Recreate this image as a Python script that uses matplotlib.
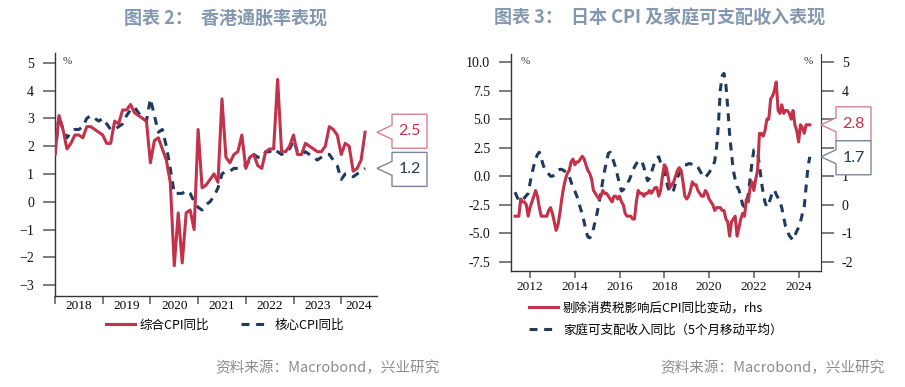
import numpy as np
import matplotlib
matplotlib.use('Agg')
import matplotlib.pyplot as plt
import matplotlib.transforms as mtransforms
from matplotlib.patches import Polygon
from matplotlib.lines import Line2D

plt.rcParams['font.family'] = ['Liberation Serif', 'Noto Sans CJK SC']

# -----------------------------------------------
# -         DATA: HONG KONG CPI (Jan 2018 - Jul 2024)
# -----------------------------------------------
hk_start = 2018
hk_headline = [
    1.7, 3.1, 2.6, 1.9, 2.1, 2.4, 2.4, 2.3, 2.7, 2.7, 2.6, 2.5,
    2.4, 2.1, 2.1, 2.9, 2.8, 3.3, 3.3, 3.5, 3.2, 3.1, 3.0, 2.9,
    1.4, 2.2, 2.3, 1.9, 1.5, 0.7, -2.3, -0.4, -2.2, -0.4, -0.3, -1.0,
    2.6, 0.5, 0.6, 0.8, 1.0, 0.7, 3.7, 1.6, 1.4, 1.7, 1.8, 2.4,
    1.2, 1.6, 1.7, 1.3, 1.2, 1.8, 1.9, 1.9, 4.4, 1.8, 1.8, 2.0,
    2.4, 1.7, 1.7, 2.1, 2.0, 1.9, 1.8, 1.8, 2.0, 2.7, 2.6, 2.4,
    1.7, 2.1, 2.0, 1.1, 1.2, 1.5, 2.5,
]
hk_core = [
    1.7, 3.1, 2.6, 2.3, 2.5, 2.6, 2.6, 2.7, 3.0, 3.1, 3.0, 2.9,
    3.0, 2.8, 2.6, 2.6, 2.7, 2.8, 3.1, 3.3, 3.4, 3.2, 3.0, 2.9,
    3.7, 3.1, 2.5, 2.6, 2.0, 1.2, 0.3, 0.3, 0.3, 0.4, 0.3, 0.0,
    -0.2, -0.3, -0.1, 0.0, 0.2, 0.5, 1.0, 1.1, 1.1, 1.2, 1.2, 1.3,
    1.3, 1.5, 1.7, 1.6, 1.6, 1.8, 1.8, 1.9, 1.8, 1.7, 1.8, 1.9,
    2.2, 1.8, 1.7, 1.8, 1.7, 1.6, 1.5, 1.6, 1.7, 1.7, 1.5, 1.3,
    0.8, 1.0, 1.0, 0.9, 1.0, 1.1, 1.2,
]
hk_years = [2018, 2019, 2020, 2021, 2022, 2023, 2024]

# -----------------------------------------------
# -         DATA: JAPAN (May 2011 - Jul 2024)
# -----------------------------------------------
jp_start = 2011 + 4 / 12
jp_cpi_ex_tax = [  # rhs
    -0.4, -0.4, -0.4, 0.2, 0.1, 0.1, 0.0, -0.4,
    -0.1, 0.1, 0.3, 0.5, 0.3, -0.1, -0.4, -0.4, -0.4, -0.4, -0.2, -0.1,
    -0.3, -0.6, -0.9, -0.7, -0.3, 0.2, 0.6, 0.9, 1.1, 1.2, 1.5, 1.6,
    1.4, 1.5, 1.5, 1.6, 1.7, 1.6, 1.4, 1.2, 1.1, 0.9, 0.5, 0.4,
    0.3, 0.2, 0.3, 0.5, 0.4, 0.4, 0.3, 0.2, 0.1, 0.3, 0.3, 0.2,
    0.3, 0.1, 0.0, -0.3, -0.4, -0.4, -0.4, -0.5, -0.5, 0.1, 0.5, 0.4,
    0.4, 0.3, 0.4, 0.4, 0.5, 0.4, 0.5, 0.6, 0.6, 0.3, 0.5, 1.0,
    1.4, 1.3, 1.0, 0.6, 0.7, 0.8, 1.0, 1.2, 1.3, 1.2, 0.8, 0.3,
    0.2, 0.3, 0.5, 0.8, 0.7, 0.7, 0.5, 0.4, 0.3, 0.3, 0.5, 0.4,
    0.2, 0.1, 0.0, -0.2, -0.1, -0.1, -0.1, -0.2, -0.2, -0.5, -0.6, -1.1,
    -0.6, -0.5, -0.4, -1.1, -0.8, -0.5, -0.3, -0.4, 0.2, 0.1, 0.6, 0.8,
    0.5, 0.9, 1.2, 2.5, 2.5, 2.4, 2.6, 3.0, 3.0, 3.7, 3.8, 4.0,
    4.3, 3.3, 3.2, 3.5, 3.2, 3.3, 3.3, 3.2, 3.0, 3.3, 2.8, 2.6,
    2.2, 2.8, 2.7, 2.5, 2.8, 2.8, 2.8,
]
jp_income = [  # lhs
    -1.4, -1.8, -2.1, -2.2, -2.1, -1.9, -1.7, -1.5,
    -0.6, 0.2, 0.9, 1.5, 1.9, 2.1, 1.6, 1.0, 0.6, 0.4, 0.2, 0.0,
    0.0, 0.1, 0.3, 0.5, 0.6, 0.6, 0.5, 0.4, 0.3, 0.0, -0.5, -1.0,
    -1.3, -1.7, -2.2, -2.8, -3.3, -4.0, -4.8, -5.3, -5.4, -5.2, -4.6, -3.9,
    -3.2, -2.3, -1.4, -0.4, 0.5, 1.3, 2.0, 2.1, 1.7, 1.2, 0.7, 0.0,
    -0.7, -1.3, -1.2, -0.9, -0.6, -0.4, 0.0, 0.5, 0.8, 1.1, 1.3, 1.4,
    1.3, 0.8, 0.2, -0.4, -0.2, 0.3, 0.8, 1.3, 1.6, 1.7, 1.2, 0.8,
    0.6, -0.3, -1.0, -1.4, -1.5, -1.2, -0.6, -0.1, 0.2, 0.5, 0.8, 1.0,
    1.0, 1.1, 1.1, 1.0, 1.0, 1.0, 0.8, 0.5, 0.2, -0.1, -0.1, 0.1,
    0.3, 0.6, 0.9, 1.3, 2.5, 4.5, 7.5, 8.8, 9.0, 8.0, 6.0, 3.7,
    2.0, 0.5, -0.3, -0.9, -1.2, -1.8, -2.5, -2.7, -2.3, -1.6, -0.2, 1.2,
    2.3, 2.3, 2.0, 1.0, -0.4, -1.5, -2.3, -2.7, -2.4, -1.9, -1.4, -1.2,
    -1.6, -1.9, -2.2, -2.8, -3.6, -4.4, -4.8, -5.2, -5.4, -5.6, -5.2, -4.8,
    -4.5, -4.0, -3.3, -2.7, -1.0, 0.8, 1.7,
]
jp_years = [2012, 2014, 2016, 2018, 2020, 2022, 2024]

# -----------------------------------------------
# -         STYLE
# -----------------------------------------------
RED = '#C3314A'
BLUE = '#1F3A5F'
TITLE_C = '#8497B0'
GREY = '#8C8C8C'
CJK = ['Noto Sans CJK SC', 'DejaVu Sans']

fig = plt.figure(figsize=(9.05, 3.87), dpi=100)


def callout(ax, yval, text, edge, tcol, box_dy=0):
    # box with a left-pointing notch, tip sits on the right edge of the axes
    tr = fig.dpi_scale_trans + mtransforms.ScaledTranslation(1.0, yval, ax.get_yaxis_transform())
    px = 1 / fig.dpi
    c = box_dy
    verts = np.array([(15, 7), (0, 0), (15, -7), (15, c - 17), (50, c - 17),
                      (50, c + 17), (15, c + 17)]) * px
    poly = Polygon(verts, closed=True, transform=tr, facecolor='white',
                   edgecolor=edge, lw=1.0, clip_on=False, zorder=5)
    fig.add_artist(poly)
    fig.text(32.5 * px, c * px, text, transform=tr, ha='center', va='center',
             fontsize=11.5, color=tcol, family=['Lato', 'DejaVu Sans'], zorder=6)


def style_axes(ax):
    for s in ['top', 'right']:
        ax.spines[s].set_visible(False)
    for s in ['left', 'bottom']:
        ax.spines[s].set_color('#333333')
        ax.spines[s].set_linewidth(1.0)
    ax.tick_params(axis='both', colors='#666666', labelcolor='#111111',
                   labelsize=10, length=8, width=1.2, direction='out')


# -----------------------------------------------
# -         LEFT: HONG KONG
# -----------------------------------------------
ax1 = fig.add_axes([55 / 905, 1 - 296 / 387, 322 / 905, 243 / 387])
t_hk = hk_start + np.arange(len(hk_headline)) / 12
ax1.plot(t_hk, hk_headline, color=RED, lw=2.2, zorder=3)
ax1.plot(t_hk, hk_core, color=BLUE, lw=2.2, dashes=(2.6, 2.2), zorder=2)
ax1.set_xlim(2018.0, 2024.75)
ax1.set_ylim(-3.39, 5.35)
style_axes(ax1)
ax1.set_yticks(range(-3, 6))
ax1.set_xticks(hk_years)
ax1.set_xticklabels([])
mids = [y + 0.5 for y in hk_years[:-1]] + [(hk_years[-1] + 2024.75) / 2]
ax1.set_xticks(mids, minor=True)
ax1.set_xticklabels([str(y) for y in hk_years], minor=True)
ax1.tick_params(axis='x', which='minor', length=0, labelsize=9.5, pad=3)
ax1.tick_params(axis='x', which='major', length=6)
ax1.tick_params(axis='y', length=9, pad=6)
ax1.text(0.025, 0.985, '%', transform=ax1.transAxes, fontsize=8, va='top', color='#333333')

callout(ax1, hk_headline[-1], '%.1f' % hk_headline[-1], '#D9808E', RED, box_dy=1)
callout(ax1, hk_core[-1], '%.1f' % hk_core[-1], '#7A86A0', BLUE, box_dy=-1)

h1 = [Line2D([], [], color=RED, lw=2.2), Line2D([], [], color=BLUE, lw=2.2, dashes=(2.6, 2.2))]
fig.legend(h1, ['综合CPI同比', '核心CPI同比'], loc='center', bbox_to_anchor=(225 / 905, 1 - 325 / 387),
           ncol=2, frameon=False, prop={'family': CJK, 'size': 9}, handlelength=2.3,
           columnspacing=2.5, handletextpad=0.4)

# -----------------------------------------------
# -         RIGHT: JAPAN
# -----------------------------------------------
ax2 = fig.add_axes([511 / 905, 1 - 271 / 387, 310 / 905, 217 / 387])
ax3 = ax2.twinx()
t_jp = jp_start + np.arange(len(jp_income)) / 12
ax2.plot(t_jp, jp_income, color=BLUE, lw=2.2, dashes=(2.6, 2.2), zorder=2)
ax3.plot(t_jp, jp_cpi_ex_tax, color=RED, lw=2.2, zorder=3)
ax2.set_xlim(2011.15, 2025.0)
ax2.set_ylim(-8.3, 10.7)
ax3.set_ylim(-2.32, 5.28)
style_axes(ax2)
style_axes(ax3)
ax3.spines['left'].set_visible(False)
ax3.spines['bottom'].set_visible(False)
ax3.spines['right'].set_visible(True)
ax3.spines['right'].set_color('#333333')
ax2.set_yticks(np.arange(-7.5, 10.1, 2.5))
ax2.set_yticklabels(['%.1f' % v for v in np.arange(-7.5, 10.1, 2.5)])
rhs_ticks = list(range(-2, 6))
ax3.set_yticks(rhs_ticks)
# labels 2 and 3 sit behind the callout boxes in the original
ax3.set_yticklabels(['' if v in (2, 3) else str(v) for v in rhs_ticks])
ax2.set_xticks(jp_years)
ax2.tick_params(axis='x', length=5, labelsize=9.5, pad=2)
ax2.tick_params(axis='y', length=9, pad=6)
ax3.tick_params(axis='y', length=9, pad=6)
ax2.text(0.03, 0.985, '%', transform=ax2.transAxes, fontsize=8, va='top', color='#333333')
ax2.text(0.975, 0.985, '%', transform=ax2.transAxes, fontsize=8, va='top', ha='right', color='#333333')

callout(ax3, jp_cpi_ex_tax[-1], '%.1f' % jp_cpi_ex_tax[-1], '#D9808E', RED, box_dy=1)
callout(ax2, jp_income[-1], '%.1f' % jp_income[-1], '#7A86A0', BLUE, box_dy=-1)

h2 = [Line2D([], [], color=RED, lw=2.2), Line2D([], [], color=BLUE, lw=2.2, dashes=(2.6, 2.2))]
fig.legend(h2, ['剔除消费税影响后CPI同比变动，rhs', '家庭可支配收入同比（5个月移动平均）'],
           loc='upper left', bbox_to_anchor=(518 / 905, 1 - 290 / 387), ncol=1, frameon=False,
           prop={'family': CJK, 'size': 9}, handlelength=2.3, handletextpad=0.4, labelspacing=0.75)

# -----------------------------------------------
# -         TITLES / SOURCES
# -----------------------------------------------
fig.text(225 / 905, 1 - 18 / 387, '图表 2：  香港通胀率表现', ha='center', va='center',
         fontsize=13, fontweight='bold', color=TITLE_C, family=CJK)
fig.text(660 / 905, 1 - 18 / 387, '图表 3：  日本 CPI 及家庭可支配收入表现', ha='center', va='center',
         fontsize=13, fontweight='bold', color=TITLE_C, family=CJK)
fig.text(440 / 905, 1 - 368 / 387, '资料来源：Macrobond，兴业研究', ha='right', va='center',
         fontsize=10.5, color=GREY, family=CJK)
fig.text(885 / 905, 1 - 368 / 387, '资料来源：Macrobond，兴业研究', ha='right', va='center',
         fontsize=10.5, color=GREY, family=CJK)

fig.savefig('out.png', dpi=100)
